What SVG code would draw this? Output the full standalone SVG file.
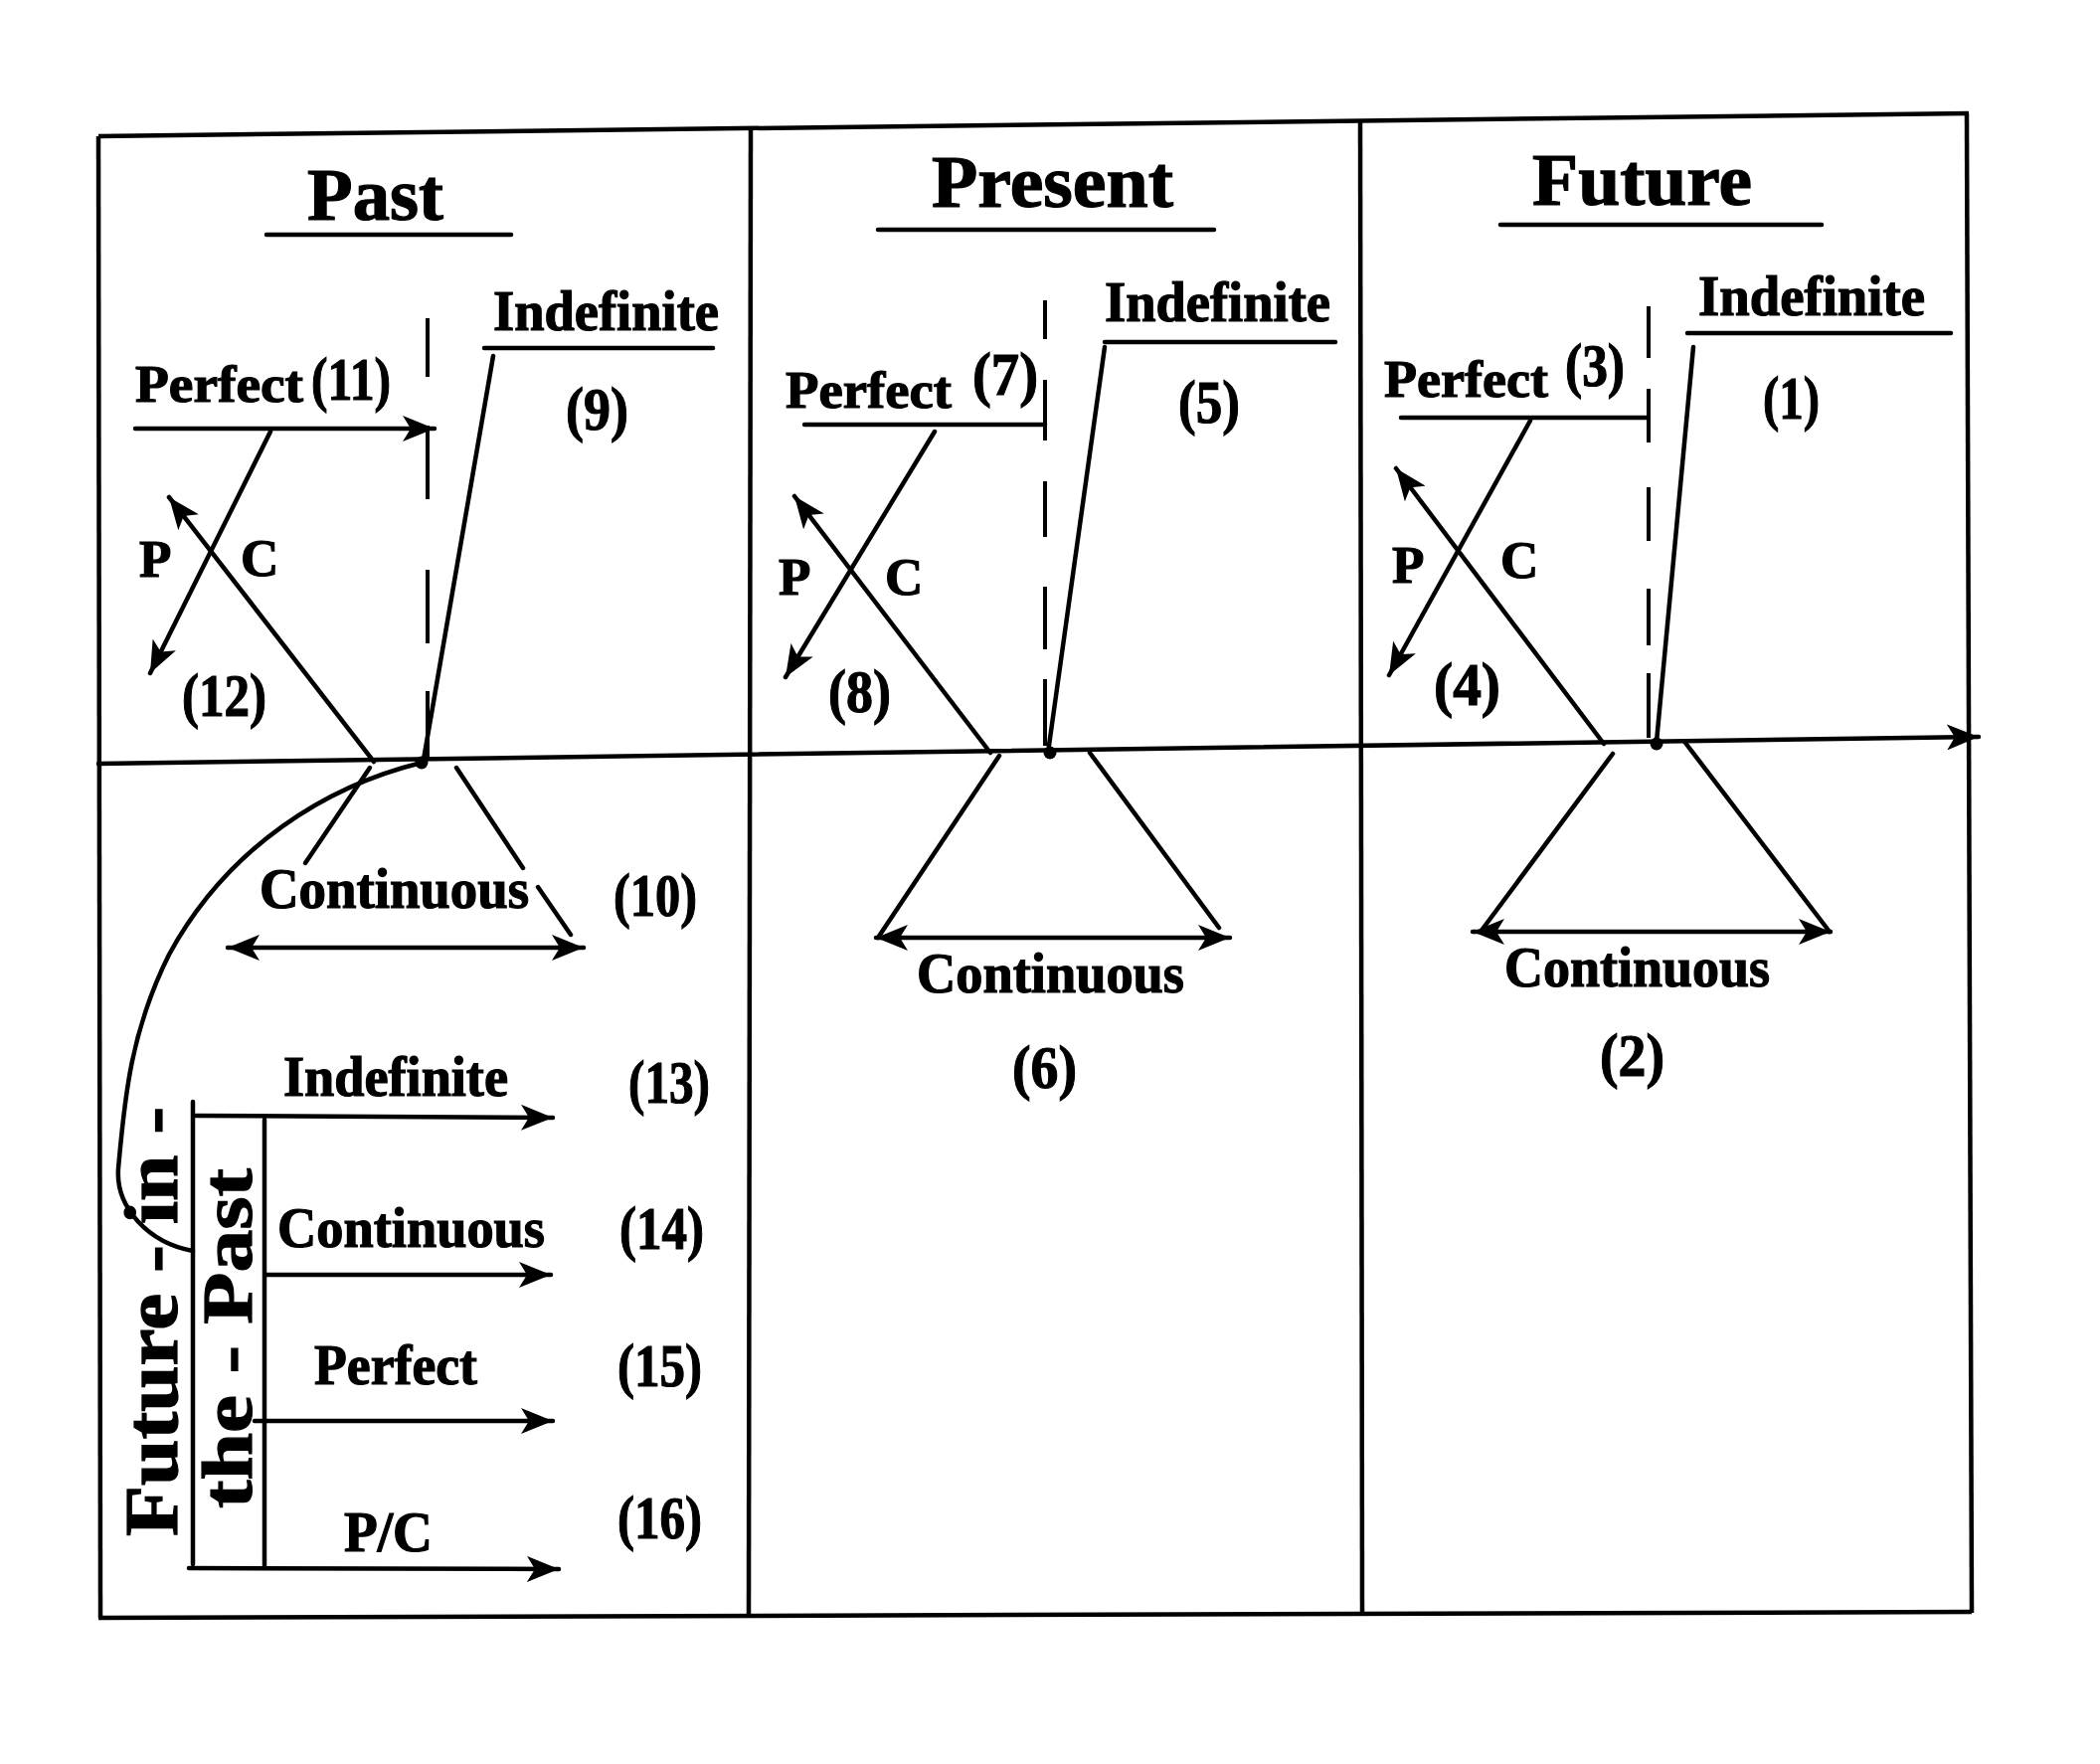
<svg xmlns="http://www.w3.org/2000/svg" width="2112" height="1774" viewBox="0 0 2112 1774">
<style>
text{font-family:"Liberation Serif","Times New Roman",serif;font-weight:bold;fill:#000;stroke:#000;stroke-width:1.2}
.n{font-size:62px}
.lb{font-size:56px}
.pc{font-size:53px}
.ti{font-size:75px}
.ln{stroke:#000;stroke-width:4.5;fill:none;stroke-linecap:round}
.bd{stroke:#000;stroke-width:4.5;fill:none}
.ds{stroke:#000;stroke-width:4;fill:none}
.ar{marker-end:url(#ah)}
.da{marker-start:url(#ah);marker-end:url(#ah)}
</style>
<defs>
<marker id="ah" markerUnits="userSpaceOnUse" markerWidth="34" markerHeight="26" refX="32" refY="13" orient="auto-start-reverse">
<path d="M0,0 L32,13 L0,26 L8,13 Z" fill="#000"/>
</marker>
</defs>
<rect width="2112" height="1774" fill="#fff"/>
<g id="frame">
<path class="bd" d="M99,137 L1980,114"/>
<path class="bd" d="M99,137 L101,1627"/>
<path class="bd" d="M99,1627 L1983,1621"/>
<path class="bd" d="M1978,114 L1983,1622"/>
<path class="bd" d="M755,131 L753,1627"/>
<path class="bd" d="M1368,122 L1370,1624"/>
</g>
<g id="connectors">
<path class="ln ar" d="M99,768 L1990,741"/>
<circle cx="424" cy="767" r="6.5" fill="#000"/>
<circle cx="1056" cy="757" r="6.5" fill="#000"/>
<circle cx="1666" cy="748" r="6.5" fill="#000"/>
<!-- past -->
<path class="ln ar" d="M136,431 L437,431"/>
<path class="ds" d="M430,320 L430,379 M430,428 L430,502 M430,573 L430,647 M430,695 L430,762"/>
<path class="ln" d="M496,358 L426,764"/>
<path class="ln ar" d="M272,434 L151,677"/>
<path class="ln ar" d="M376,766 L170,500"/>
<path class="ln" d="M372,772 L307,868"/>
<path class="ln" d="M459,772 L526,873 M541,892 L574,940"/>
<path class="ln da" d="M229,953 L587,953"/>
<path class="ln" d="M424,767 C330,790 230,850 170,960 C130,1040 125,1110 119,1175 C116,1215 150,1250 194,1258"/>
<path class="ln" d="M194,1108 L194,1573 M266,1126 L266,1577"/>
<path class="ln ar" d="M197,1122 L556,1124"/>
<path class="ln ar" d="M268,1282 L554,1282"/>
<path class="ln ar" d="M256,1429 L556,1429"/>
<path class="ln ar" d="M190,1577 L562,1578"/>
<!-- present -->
<path class="ln" d="M809,427 L1051,427"/>
<path class="ds" d="M1051,302 L1051,341 M1051,382 L1051,443 M1051,484 L1051,540 M1051,590 L1051,653 M1051,683 L1051,750"/>
<path class="ln" d="M1111,349 L1054,757"/>
<path class="ln ar" d="M940,434 L790,681"/>
<path class="ln ar" d="M996,757 L799,499"/>
<path class="ln" d="M1005,760 L883,943"/>
<path class="ln" d="M1096,757 L1226,933"/>
<path class="ln da" d="M881,943 L1237,943"/>
<!-- future -->
<path class="ln" d="M1409,420 L1656,420"/>
<path class="ds" d="M1658,308 L1658,360 M1658,391 L1658,445 M1658,490 L1658,544 M1658,592 L1658,649 M1658,677 L1658,742"/>
<path class="ln" d="M1703,349 L1666,746"/>
<path class="ln ar" d="M1539,423 L1397,679"/>
<path class="ln ar" d="M1613,748 L1404,471"/>
<path class="ln" d="M1622,758 L1489,937"/>
<path class="ln" d="M1695,747 L1840,937"/>
<path class="ln da" d="M1481,937 L1841,937"/>
</g>
<g id="past">
<text class="ti" x="309" y="221" font-size="77" textLength="137" lengthAdjust="spacingAndGlyphs">Past</text>
<path class="ln" d="M268,236 L514,236"/>
<text class="lb" x="496" y="332" textLength="227" lengthAdjust="spacingAndGlyphs">Indefinite</text>
<path class="ln" d="M487,350 L717,350"/>
<text class="n" x="569" y="432" textLength="63" lengthAdjust="spacingAndGlyphs">(9)</text>
<text class="pc" x="136" y="404" textLength="169" lengthAdjust="spacingAndGlyphs">Perfect</text>
<text class="n" x="313" y="402" textLength="80" lengthAdjust="spacingAndGlyphs">(11)</text>
<text class="pc" x="140" y="580">P</text>
<text class="pc" x="242" y="579">C</text>
<text class="n" x="183" y="720" textLength="85" lengthAdjust="spacingAndGlyphs">(12)</text>
<text class="lb" x="261" y="913" font-size="54" textLength="271" lengthAdjust="spacingAndGlyphs">Continuous</text>
<text class="n" x="617" y="921" textLength="84" lengthAdjust="spacingAndGlyphs">(10)</text>
</g>
<g id="future-in-the-past">
<text class="lb" x="285" y="1102" textLength="226" lengthAdjust="spacingAndGlyphs">Indefinite</text>
<text class="n" x="632" y="1109" textLength="82" lengthAdjust="spacingAndGlyphs">(13)</text>
<text class="lb" x="279" y="1254" font-size="58" textLength="269" lengthAdjust="spacingAndGlyphs">Continuous</text>
<text class="n" x="623" y="1256" textLength="85" lengthAdjust="spacingAndGlyphs">(14)</text>
<text class="lb" x="316" y="1392" font-size="55" textLength="164" lengthAdjust="spacingAndGlyphs">Perfect</text>
<text class="n" x="621" y="1394" textLength="85" lengthAdjust="spacingAndGlyphs">(15)</text>
<text class="lb" x="346" y="1560" font-size="54" textLength="89" lengthAdjust="spacingAndGlyphs">P/C</text>
<text class="n" x="621" y="1547" textLength="85" lengthAdjust="spacingAndGlyphs">(16)</text>
<text transform="translate(178,1545) rotate(-90)" font-size="76" textLength="432" lengthAdjust="spacingAndGlyphs">Future - in -</text>
<text transform="translate(253,1517) rotate(-90)" font-size="72" textLength="342" lengthAdjust="spacingAndGlyphs">the - Past</text>
</g>
<g id="present">
<text class="ti" x="937" y="208" font-size="74" textLength="243" lengthAdjust="spacingAndGlyphs">Present</text>
<path class="ln" d="M883,231 L1221,231"/>
<text class="lb" x="1111" y="323" textLength="227" lengthAdjust="spacingAndGlyphs">Indefinite</text>
<path class="ln" d="M1111,344 L1343,344"/>
<text class="n" x="1185" y="425" textLength="62" lengthAdjust="spacingAndGlyphs">(5)</text>
<text class="pc" x="790" y="410" textLength="167" lengthAdjust="spacingAndGlyphs">Perfect</text>
<text class="n" x="978" y="397" textLength="66" lengthAdjust="spacingAndGlyphs">(7)</text>
<text class="pc" x="783" y="598">P</text>
<text class="pc" x="890" y="598">C</text>
<text class="n" x="833" y="716" textLength="63" lengthAdjust="spacingAndGlyphs">(8)</text>
<text class="lb" x="922" y="998" font-size="54" textLength="269" lengthAdjust="spacingAndGlyphs">Continuous</text>
<text class="n" x="1018" y="1094" textLength="65" lengthAdjust="spacingAndGlyphs">(6)</text>
</g>
<g id="future">
<text class="ti" x="1541" y="206" textLength="221" lengthAdjust="spacingAndGlyphs">Future</text>
<path class="ln" d="M1509,226 L1832,226"/>
<text class="lb" x="1708" y="317" textLength="228" lengthAdjust="spacingAndGlyphs">Indefinite</text>
<path class="ln" d="M1697,335 L1962,335"/>
<text class="n" x="1773" y="421" textLength="57" lengthAdjust="spacingAndGlyphs">(1)</text>
<text class="pc" x="1392" y="399" textLength="165" lengthAdjust="spacingAndGlyphs">Perfect</text>
<text class="n" x="1574" y="388" textLength="60" lengthAdjust="spacingAndGlyphs">(3)</text>
<text class="pc" x="1400" y="586">P</text>
<text class="pc" x="1509" y="581">C</text>
<text class="n" x="1442" y="709" textLength="67" lengthAdjust="spacingAndGlyphs">(4)</text>
<text class="lb" x="1513" y="992" font-size="54" textLength="267" lengthAdjust="spacingAndGlyphs">Continuous</text>
<text class="n" x="1609" y="1082" textLength="65" lengthAdjust="spacingAndGlyphs">(2)</text>
</g>
</svg>
